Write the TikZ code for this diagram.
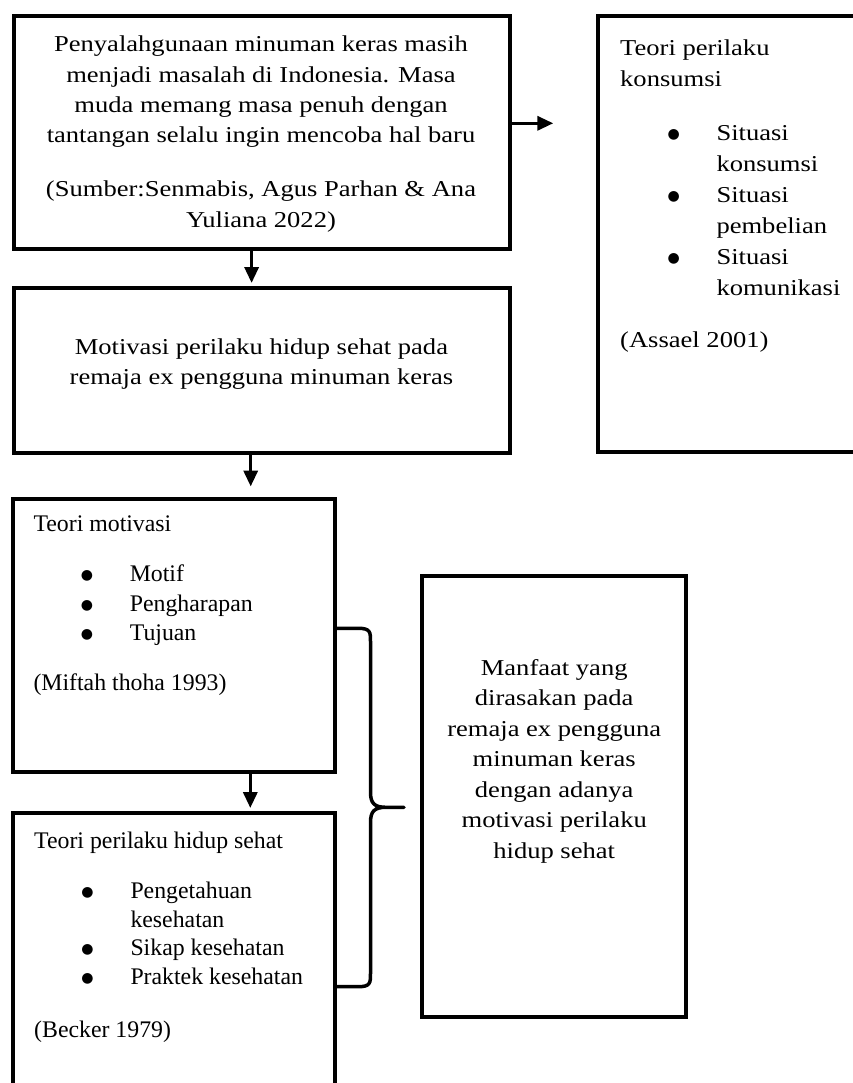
\documentclass[tikz,border=0pt]{standalone}
\usepackage{fontspec}
\setmainfont{Liberation Serif}
\newfontfamily\wideserif[FakeStretch=1.17]{Liberation Serif}
\newfontfamily\plainserif{Liberation Serif}
\newfontfamily\dotfont{DejaVu Sans}
\usetikzlibrary{arrows.meta}

\newcommand{\mybullet}{{\dotfont\fontsize{14}{14}\selectfont\raisebox{2pt}{●}}}
\newcommand{\myitem}{\makebox[96.3pt][l]{\hspace*{53.4pt}\makebox[0pt]{\mybullet}}}
\newcommand{\mycont}{\hspace*{96.3pt}}
\newcommand{\mystrut}{\rule{0pt}{20pt}}

\tikzset{
  frame/.style={draw, line width=3.9pt, inner sep=0pt, outer sep=0pt},
  arr/.style={line width=3.4pt, -{Triangle[width=14pt,length=16pt]}},
  bracepath/.style={line width=3.5pt, line join=round, line cap=butt},
  widetext/.style={inner sep=0pt, font={\wideserif\fontsize{22.7}{30.3}\selectfont}},
  plaintext/.style={inner sep=0pt, font={\plainserif\fontsize{23.8}{29.2}\selectfont}, align=left, anchor=north west}
}

\begin{document}
\begin{tikzpicture}[x=1pt,y=-1pt]
\clip (0,0) rectangle (853,1083);
\fill[white] (0,0) rectangle (853,1083);

% boxes
\node[frame, minimum width=496.6pt, minimum height=233.3pt] (b1) at (262,132.65) {};
\node[frame, minimum width=496.6pt, minimum height=165pt] (b2) at (262,370.8) {};
\node[frame, minimum width=277.3pt, minimum height=435.7pt] (rb) at (736.35,233.85) {};
\node[frame, minimum width=322.3pt, minimum height=273.3pt] (b3) at (173.85,635.35) {};
\node[frame, minimum width=322.3pt, minimum height=286.7pt] (b4) at (173.85,956.65) {};
\node[frame, minimum width=264.3pt, minimum height=441.3pt] (b5) at (553.85,796.65) {};

% texts
\node[widetext, align=center, anchor=north] (t1) at (261,31.7) {\mystrut Penyalahgunaan minuman keras masih\\
menjadi masalah di Indonesia. Masa\\
muda memang masa penuh dengan\\
tantangan selalu ingin mencoba hal baru\\[23.7pt]
(Sumber:Senmabis, Agus Parhan \& Ana\\
Yuliana 2022)};

\node[widetext, align=center, anchor=north] (t2) at (261.4,334) {\mystrut Motivasi perilaku hidup sehat pada\\
remaja ex pengguna minuman keras};

\node[inner sep=0pt, font={\wideserif\fontsize{22.7}{31}\selectfont}, align=left, anchor=north west] (trb) at (620,35) {\mystrut Teori perilaku\\
konsumsi\\[23pt]
\myitem Situasi\\
\mycont konsumsi\\
\myitem Situasi\\
\mycont pembelian\\
\myitem Situasi\\
\mycont komunikasi\\[21pt]
(Assael 2001)};

\node[plaintext] (t3) at (33.3,511.7) {\mystrut Teori motivasi\\[20.8pt]
\myitem Motif\\
\myitem Pengharapan\\
\myitem Tujuan\\[20.8pt]
(Miftah thoha 1993)};

\node[plaintext, font={\plainserif\fontsize{23.8}{28.7}\selectfont}] (t4) at (34,828.3) {\mystrut Teori perilaku hidup sehat\\[21.3pt]
\myitem Pengetahuan\\
\mycont kesehatan\\
\myitem Sikap kesehatan\\
\myitem Praktek kesehatan\\[24pt]
(Becker 1979)};

\node[widetext, font={\wideserif\fontsize{22.7}{30.5}\selectfont}, align=center, anchor=north] (t5) at (554.2,655) {\mystrut Manfaat yang\\
dirasakan pada\\
remaja ex pengguna\\
minuman keras\\
dengan adanya\\
motivasi perilaku\\
hidup sehat};

% connector guide coordinates
\coordinate (axA) at (251.6,0);
\coordinate (axB) at (250.7,0);
\coordinate (axC) at (250.3,0);
\coordinate (ayA) at (0,123.3);
\coordinate (brT) at (0,628.3);
\coordinate (brB) at (0,986.7);
\coordinate (brTip) at (404,807.3);

% arrows
\draw[arr, shorten >=5.3pt] (b1.south -| axA) -- (b2.north -| axA);
\draw[arr, shorten >=44.4pt] (b1.east |- ayA) -- (rb.west |- ayA);
\draw[arr, shorten >=12.2pt] (b2.south -| axB) -- (b3.north -| axB);
\draw[arr, shorten >=5.3pt] (b3.south -| axC) -- (b4.north -| axC);

% brace
\draw[bracepath] (b3.east |- brT) -- (358,628.3)
  .. controls (370.5,628.3) and (370.5,632) .. (370.5,642)
  -- (370.5,792)
  .. controls (370.5,803) and (374,807.3) .. (386,807.3)
  -- (brTip) -- (386,807.3)
  .. controls (374,807.3) and (370.5,811.6) .. (370.5,822.6)
  -- (370.5,973)
  .. controls (370.5,983) and (370.5,986.7) .. (358,986.7)
  -- (b4.east |- brB);
\end{tikzpicture}
\end{document}
